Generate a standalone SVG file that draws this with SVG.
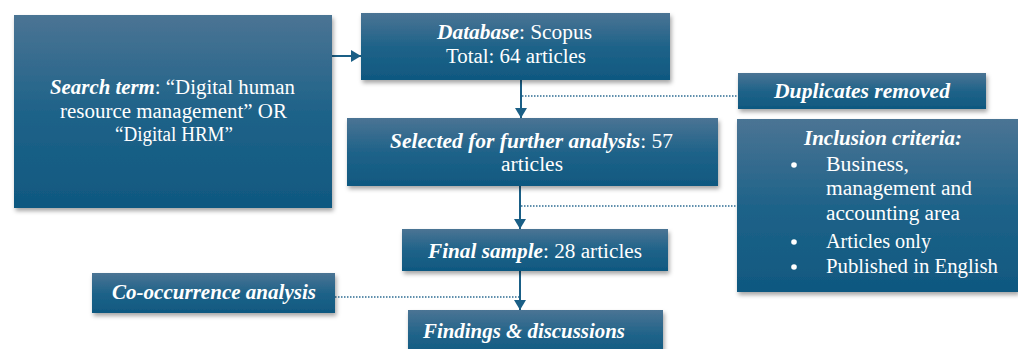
<svg xmlns="http://www.w3.org/2000/svg" width="1018" height="349" viewBox="0 0 1018 349">
  <defs>
    <linearGradient id="g" x1="0" y1="0" x2="0" y2="1">
      <stop offset="0" stop-color="#4b7494"/>
      <stop offset="0.5" stop-color="#1f6389"/>
      <stop offset="1" stop-color="#0f5880"/>
    </linearGradient>
    <filter id="sh" x="-10%" y="-10%" width="125%" height="130%">
      <feDropShadow dx="1.5" dy="3" stdDeviation="2" flood-color="#000" flood-opacity="0.35"/>
    </filter>
    <marker id="ah" markerWidth="12" markerHeight="12" viewBox="0 0 12 12" refX="10" refY="6" orient="auto" markerUnits="userSpaceOnUse">
      <path d="M0,0 L10,6 L0,12 Z" fill="#1a5f86"/>
    </marker>
    <style>
      .box { fill: url(#g); filter: url(#sh); }
      text { font-family: "Liberation Serif", "DejaVu Serif", serif; font-size: 20px; fill: #ffffff; }
      .b { font-weight: bold; font-style: italic; }
      .ln { stroke: #1a5f86; stroke-width: 2; fill: none; }
      .dt { stroke: #2d6c92; stroke-width: 1.5; stroke-dasharray: 1.5 1.5; fill: none; }
    </style>
  </defs>
  <g id="connectors">
    <line class="ln" x1="332" y1="56" x2="361" y2="56" marker-end="url(#ah)"/>
    <line class="ln" x1="521" y1="80" x2="521" y2="118" marker-end="url(#ah)"/>
    <line class="ln" x1="520" y1="186" x2="520" y2="229" marker-end="url(#ah)"/>
    <line class="ln" x1="520" y1="271" x2="520" y2="310" marker-end="url(#ah)"/>
    <line class="dt" x1="522" y1="96" x2="738" y2="96"/>
    <line class="dt" x1="521" y1="206" x2="737" y2="206"/>
    <line class="dt" x1="335" y1="297" x2="519" y2="297"/>
  </g>
  <g id="search">
    <rect class="box" x="14" y="15" width="318" height="193"/>
    <text x="50" y="94" textLength="245" lengthAdjust="spacingAndGlyphs"><tspan class="b">Search term</tspan>: “Digital human</text>
    <text x="60" y="118" textLength="227" lengthAdjust="spacingAndGlyphs">resource management” OR</text>
    <text x="115" y="141" textLength="118" lengthAdjust="spacingAndGlyphs">“Digital HRM”</text>
  </g>
  <g id="database">
    <rect class="box" x="361" y="13" width="309" height="67"/>
    <text x="437" y="39" textLength="155" lengthAdjust="spacingAndGlyphs"><tspan class="b">Database</tspan>: Scopus</text>
    <text x="446" y="63" textLength="140" lengthAdjust="spacingAndGlyphs">Total: 64 articles</text>
  </g>
  <g id="selected">
    <rect class="box" x="347" y="118" width="371" height="68"/>
    <text x="390" y="148" textLength="283" lengthAdjust="spacingAndGlyphs"><tspan class="b">Selected for further analysis</tspan>: 57</text>
    <text x="501" y="171" textLength="62" lengthAdjust="spacingAndGlyphs">articles</text>
  </g>
  <g id="duplicates">
    <rect class="box" x="738" y="73" width="248" height="36"/>
    <text class="b" x="774" y="98" textLength="176" lengthAdjust="spacingAndGlyphs">Duplicates removed</text>
  </g>
  <g id="inclusion">
    <rect class="box" x="737" y="119" width="281" height="173"/>
    <text class="b" x="804" y="145" textLength="158" lengthAdjust="spacingAndGlyphs">Inclusion criteria:</text>
    <circle cx="794" cy="165" r="2.8" fill="#fff"/>
    <circle cx="794" cy="242" r="2.8" fill="#fff"/>
    <circle cx="794" cy="267" r="2.8" fill="#fff"/>
    <text x="826" y="171" textLength="83" lengthAdjust="spacingAndGlyphs">Business,</text>
    <text x="826" y="195" textLength="146" lengthAdjust="spacingAndGlyphs">management and</text>
    <text x="826" y="220" textLength="134" lengthAdjust="spacingAndGlyphs">accounting area</text>
    <text x="826" y="248" textLength="105" lengthAdjust="spacingAndGlyphs">Articles only</text>
    <text x="826" y="273" textLength="172" lengthAdjust="spacingAndGlyphs">Published in English</text>
  </g>
  <g id="final">
    <rect class="box" x="402" y="229" width="266" height="42"/>
    <text x="428" y="258" textLength="214" lengthAdjust="spacingAndGlyphs"><tspan class="b">Final sample</tspan>: 28 articles</text>
  </g>
  <g id="cooccurrence">
    <rect class="box" x="92" y="273" width="243" height="40"/>
    <text class="b" x="112" y="299" textLength="204" lengthAdjust="spacingAndGlyphs">Co-occurrence analysis</text>
  </g>
  <g id="findings">
    <rect class="box" x="408" y="310" width="255" height="50"/>
    <text class="b" x="423" y="338" textLength="202" lengthAdjust="spacingAndGlyphs">Findings &amp; discussions</text>
  </g>
</svg>
